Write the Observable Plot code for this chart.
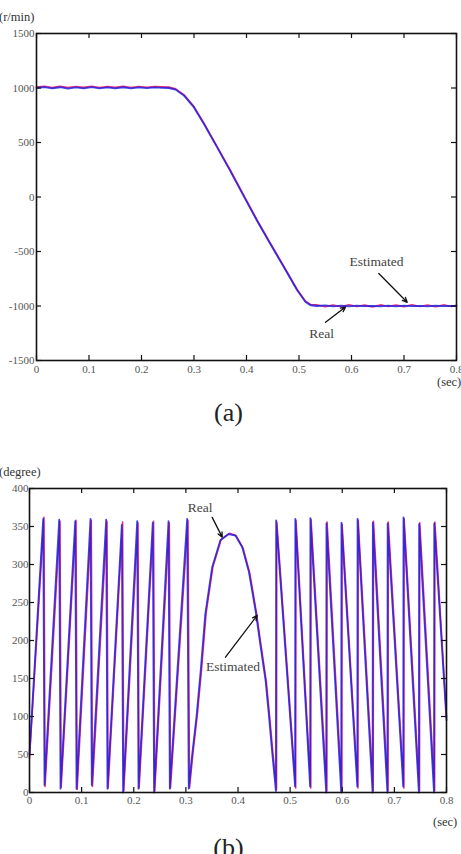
<!DOCTYPE html>
<html><head><meta charset="utf-8">
<script src="https://cdn.jsdelivr.net/npm/d3@7"></script>
<script src="https://cdn.jsdelivr.net/npm/@observablehq/plot@0.6"></script>
<style>
html,body{margin:0;padding:0;background:#fff;width:461px;height:854px;overflow:hidden;font-family:"Liberation Serif","Times New Roman",serif;}
.abs{position:absolute;white-space:nowrap;line-height:1;color:#333}
.chart{position:absolute;left:0}
.chart svg{overflow:visible}
.chart svg text{font-family:"Liberation Serif","Times New Roman",serif}
</style></head><body>
<div id="a" class="chart" style="top:0px"></div>
<div id="b" class="chart" style="top:460px"></div>
<div class="abs" style="left:-1px;top:11px;font-size:12.5px">(r/min)</div>
<div class="abs" style="left:437px;top:376px;font-size:12.5px">(sec)</div>
<div class="abs" style="left:0;width:457px;text-align:center;top:400px;font-size:26px;color:#222">(a)</div>
<div class="abs" style="left:-1px;top:466px;font-size:12.5px">(degree)</div>
<div class="abs" style="left:433px;top:816px;font-size:12.5px">(sec)</div>
<div class="abs" style="left:0;width:457px;text-align:center;top:835px;font-size:26px;color:#222">(b)</div>
<script>
// ---------- Chart (a): speed ----------
const speedXTicks = [0, 0.1, 0.2, 0.3, 0.4, 0.5, 0.6, 0.7, 0.8];
const speedYTicks = [-1500, -1000, -500, 0, 500, 1000, 1500];
const speedT = [0, 0.015, 0.03, 0.045, 0.06, 0.075, 0.09, 0.105, 0.12, 0.135, 0.15, 0.165, 0.18, 0.195, 0.21, 0.225, 0.24, 0.252, 0.265, 0.2806, 0.2996, 0.3187, 0.3441, 0.3695, 0.3949, 0.4203, 0.4457, 0.471, 0.4965, 0.5124, 0.522, 0.535, 0.55, 0.565, 0.58, 0.595, 0.61, 0.625, 0.64, 0.655, 0.67, 0.685, 0.7, 0.715, 0.73, 0.745, 0.76, 0.775, 0.79, 0.8];
const speedReal = [1000, 1008, 996, 1007, 995, 1006, 997, 1008, 996, 1005, 997, 1007, 996, 1006, 998, 1005, 1002, 1000, 985, 932, 824, 672, 455, 235, 6, -220, -434, -642, -856, -963, -993, -1000, -995, -1003, -997, -1004, -996, -1002, -998, -1004, -996, -1003, -997, -1002, -998, -1003, -997, -1002, -998, -1000];
const speedEst = [1008, 1016, 1005, 1015, 1004, 1014, 1006, 1016, 1005, 1013, 1006, 1015, 1005, 1014, 1007, 1013, 1010, 1008, 992, 940, 832, 680, 463, 243, 14, -212, -426, -634, -848, -955, -986, -990, -1006, -991, -1007, -989, -1005, -992, -1008, -990, -1004, -992, -1006, -989, -1005, -991, -1007, -990, -1004, -994];
const speedLabels = ["Real", "Estimated"];
const speedLabelX = [0.543, 0.6476];
const speedLabelY = [-1251, -590];
const speedArrowX1 = [0.5505, 0.652];
const speedArrowY1 = [-1149, -702];
const speedArrowX2 = [0.5886, 0.7061];
const speedArrowY2 = [-1010, -966];

// ---------- Chart (b): angle ----------
const angleXTicks = [0, 0.1, 0.2, 0.3, 0.4, 0.5, 0.6, 0.7, 0.8];
const angleYTicks = [0, 50, 100, 150, 200, 250, 300, 350, 400];
const angleRealT = [0, 0.0263, 0.0288, 0.057, 0.0595, 0.0877, 0.0902, 0.117, 0.1195, 0.1471, 0.1496, 0.1771, 0.1796, 0.2066, 0.2091, 0.2365, 0.239, 0.2667, 0.2692, 0.3025, 0.3055,
  0.3121, 0.3204, 0.3284, 0.3373, 0.3503, 0.3662, 0.3821, 0.395, 0.408, 0.421, 0.434, 0.4428, 0.4528, 0.4588, 0.4657, 0.4727,
  0.4732, 0.5095, 0.51, 0.5384, 0.5389, 0.5692, 0.5697, 0.598, 0.5985, 0.6289, 0.6294, 0.6582, 0.6587, 0.6866, 0.6871, 0.717, 0.7175, 0.747, 0.7475, 0.776, 0.7765, 0.8];
const angleRealV = [50, 360, 10, 359, 5, 357, 5, 360, 10, 359, 5, 352, 0, 357, 5, 355, 0, 357, 5, 360, 5,
  50, 100, 160, 235, 296, 332, 340, 338, 323, 290, 238, 195, 148, 105, 52, 2,
  358, 8, 360, 8, 361, 0, 354, 0, 355, 8, 360, 0, 355, 0, 354, 8, 362, 0, 353, 0, 354, 95];
const angleEstT = [0, 0.0278, 0.0298, 0.0585, 0.0607, 0.0892, 0.0914, 0.1185, 0.1207, 0.1486, 0.1508, 0.1786, 0.1808, 0.2081, 0.2103, 0.238, 0.2402, 0.2682, 0.2704, 0.304, 0.307,
  0.3136, 0.3219, 0.3299, 0.3388, 0.3518, 0.3677, 0.3836, 0.3965, 0.4095, 0.4225, 0.4355, 0.4443, 0.4543, 0.4603, 0.4672, 0.4739,
  0.4744, 0.5107, 0.5112, 0.5396, 0.5401, 0.5704, 0.5709, 0.5992, 0.5997, 0.6301, 0.6306, 0.6594, 0.6599, 0.6878, 0.6883, 0.7182, 0.7187, 0.7482, 0.7487, 0.7772, 0.7777, 0.8];
const angleEstV = [45, 362, 8, 357, 7, 358, 4, 358, 8, 357, 6, 356, 2, 355, 6, 357, 2, 355, 6, 358, 6,
  52, 102, 161, 236, 297, 333, 341, 338, 322, 289, 236, 193, 146, 103, 50, 4,
  356, 6, 358, 6, 359, 2, 356, 2, 353, 6, 358, 2, 357, 2, 356, 6, 360, 2, 355, 2, 356, 100];
const angleLabels = ["Real", "Estimated"];
const angleLabelX = [0.3275, 0.3904];
const angleLabelY = [375, 166];
const angleArrowX1 = [0.3505, 0.376];
const angleArrowY1 = [362, 178];
const angleArrowX2 = [0.3697, 0.4368];
const angleArrowY2 = [336, 233];

const RED = "#e8307a";
const BLUE = "#2020e2";

function buildChart({width, height, mt, mb, ml, mr, xDomain, yDomain, xTicks, yTicks, real, est, labels, arrows, yPad, xPad}) {
  const innerW = width - ml - mr;
  const innerH = height - mt - mb;
  const fmt = d => String(d);
  return Plot.plot({
    width, height,
    marginTop: mt, marginBottom: mb, marginLeft: ml, marginRight: mr,
    x: {domain: xDomain},
    y: {domain: yDomain},
    style: {fontFamily: "'Liberation Serif','Times New Roman',serif", fontSize: "11px", color: "#555", background: "transparent", overflow: "visible"},
    marks: [
      Plot.line(est, {x: "t", y: "v", stroke: RED, strokeWidth: 1.6}),
      Plot.line(real, {x: "t", y: "v", stroke: BLUE, strokeWidth: 1.8, strokeOpacity: 0.85}),
      Plot.frame({stroke: "#111", strokeWidth: 1.6}),
      Plot.tickX(xTicks, {x: d => d, insetBottom: innerH - 5, stroke: "#111", strokeWidth: 1.2}),
      Plot.tickX(xTicks, {x: d => d, insetTop: innerH - 5, stroke: "#111", strokeWidth: 1.2}),
      Plot.tickY(yTicks, {y: d => d, insetRight: innerW - 5, stroke: "#111", strokeWidth: 1.2}),
      Plot.tickY(yTicks, {y: d => d, insetLeft: innerW - 5, stroke: "#111", strokeWidth: 1.2}),
      Plot.axisX({ticks: xTicks, tickSize: 0, tickPadding: xPad, tickFormat: fmt, label: null}),
      Plot.axisY({ticks: yTicks, tickSize: 0, tickPadding: yPad, tickFormat: fmt, label: null}),
      Plot.arrow(arrows, {x1: "x1", y1: "y1", x2: "x2", y2: "y2", stroke: "#111", strokeWidth: 1.3, headLength: 6, headAngle: 50}),
      Plot.text(labels, {x: "x", y: "y", text: "text", fill: "#444", fontSize: 13.5, textAnchor: "middle"})
    ]
  });
}

const speedRealData = speedT.map((t, i) => ({t, v: speedReal[i]}));
const speedEstData = speedT.map((t, i) => ({t, v: speedEst[i]}));
const angleRealData = angleRealT.map((t, i) => ({t, v: angleRealV[i]}));
const angleEstData = angleEstT.map((t, i) => ({t, v: angleEstV[i]}));

document.getElementById("a").append(buildChart({
  width: 461, height: 395, mt: 33, mb: 35, ml: 36, mr: 5,
  xDomain: [0, 0.8], yDomain: [-1500, 1500],
  xTicks: speedXTicks, yTicks: speedYTicks,
  real: speedRealData, est: speedEstData,
  labels: speedLabels.map((text, i) => ({text, x: speedLabelX[i], y: speedLabelY[i]})),
  arrows: speedArrowX1.map((x1, i) => ({x1, y1: speedArrowY1[i], x2: speedArrowX2[i], y2: speedArrowY2[i]})),
  yPad: 2, xPad: 5
}));

document.getElementById("b").append(buildChart({
  width: 461, height: 370, mt: 28, mb: 38, ml: 29, mr: 15,
  xDomain: [0, 0.8], yDomain: [0, 400],
  xTicks: angleXTicks, yTicks: angleYTicks,
  real: angleRealData, est: angleEstData,
  labels: angleLabels.map((text, i) => ({text, x: angleLabelX[i], y: angleLabelY[i]})),
  arrows: angleArrowX1.map((x1, i) => ({x1, y1: angleArrowY1[i], x2: angleArrowX2[i], y2: angleArrowY2[i]})),
  yPad: 1, xPad: 4
}));
</script>
</body></html>
